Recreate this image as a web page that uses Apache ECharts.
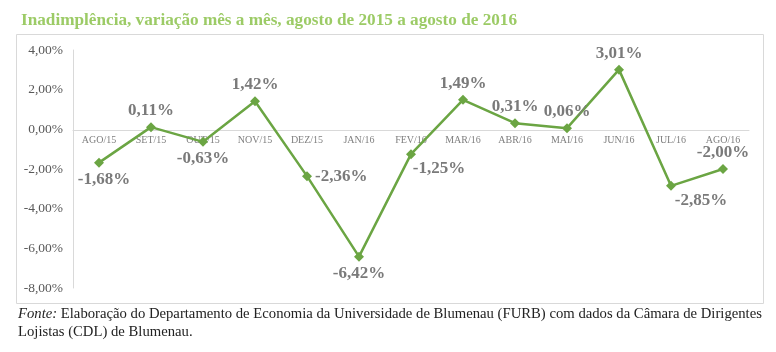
<!DOCTYPE html>
<html>
<head>
<meta charset="utf-8">
<script src="https://cdn.jsdelivr.net/npm/echarts@6/dist/echarts.min.js"></script>
<style>
  html, body { margin: 0; padding: 0; background: #fff; }
  #chart { width: 776px; height: 352px; }
</style>
</head>
<body>
<div id="chart"></div>
<script>
// meses e variação da inadimplência (%)
const months = ['AGO/15', 'SET/15', 'OUT/15', 'NOV/15', 'DEZ/15', 'JAN/16', 'FEV/16',
  'MAR/16', 'ABR/16', 'MAI/16', 'JUN/16', 'JUL/16', 'AGO/16']
const variation = [-1.68, 0.11, -0.63, 1.42, -2.36, -6.42, -1.25, 1.49, 0.31, 0.06, 3.01, -2.85, -2.00]
const yTicks = [-8, -6, -4, -2, 0, 2, 4]

// where each value label sits
const labelPlace = ['bottom', 'top', 'bottom', 'top', 'right', 'bottom', 'bottom',
  'top', 'top', 'top', 'top', 'bottom', 'top']
const labelShift = {6: [28, -2], 11: [30, -2], 0: [5, 0]}

const fmt = v => v.toFixed(2).replace('.', ',') + '%'

const myChart = echarts.init(document.getElementById('chart'))
const option = {
  animation: false,
  title: {
    text: 'Inadimplência, variação mês a mês, agosto de 2015 a agosto de 2016',
    left: 16,
    top: 7,
    textStyle: {
      fontFamily: 'Liberation Serif',
      fontSize: 17.2,
      fontWeight: 'bold',
      color: '#9ccb66'
    }
  },
  grid: { left: 73, right: 27, top: 50, bottom: 64 },
  xAxis: {
    type: 'category',
    data: months,
    boundaryGap: true,
    // axis sits on the 0,00% line (grid height 238, zero at 158 from bottom)
    offset: -158,
    axisLine: { onZero: false, lineStyle: { color: '#d9d9d9', width: 1 } },
    axisTick: { show: false },
    axisLabel: {
      margin: 5,
      fontFamily: 'Liberation Serif',
      fontSize: 10,
      color: '#7f7f7f'
    }
  },
  yAxis: {
    type: 'value',
    min: yTicks[0],
    max: yTicks[yTicks.length - 1],
    interval: 2,
    axisLine: { show: true, lineStyle: { color: '#d9d9d9', width: 1 } },
    axisTick: { show: false },
    splitLine: { show: false },
    axisLabel: {
      margin: 10,
      fontFamily: 'Liberation Serif',
      fontSize: 13.5,
      color: '#595959',
      formatter: v => fmt(v)
    }
  },
  series: [
    {
      type: 'line',
      data: variation.map((v, i) => ({
        value: v,
        label: {
          position: labelPlace[i],
          offset: labelShift[i] || [0, 0]
        }
      })),
      symbol: 'diamond',
      symbolSize: 10,
      z: 3,
      lineStyle: { color: '#6ba543', width: 2.5 },
      itemStyle: { color: '#6ba543' },
      label: {
        show: true,
        distance: 3,
        fontFamily: 'Liberation Serif',
        fontSize: 17,
        fontWeight: 'bold',
        color: '#7a7a7a',
        formatter: p => fmt(p.value)
      }
    }
  ],
  graphic: [
    {
      type: 'rect',
      shape: { x: 16.5, y: 34.5, width: 747, height: 269 },
      style: { fill: 'none', stroke: '#d9d9d9', lineWidth: 1 },
      silent: true
    },
    {
      type: 'text',
      left: 18,
      top: 307,
      style: {
        text: '{i|Fonte:} Elaboração do Departamento de Economia da Universidade de Blumenau (FURB) com dados da Câmara de Dirigentes',
        rich: {
          i: { fontStyle: 'italic', fontFamily: 'Liberation Serif', fontSize: 14.7, fill: '#222' }
        },
        fontFamily: 'Liberation Serif',
        fontSize: 14.7,
        fill: '#222'
      }
    },
    {
      type: 'text',
      left: 18,
      top: 325,
      style: {
        text: 'Lojistas (CDL) de Blumenau.',
        fontFamily: 'Liberation Serif',
        fontSize: 14.7,
        fill: '#222'
      }
    }
  ]
}
myChart.setOption(option)
</script>
</body>
</html>
